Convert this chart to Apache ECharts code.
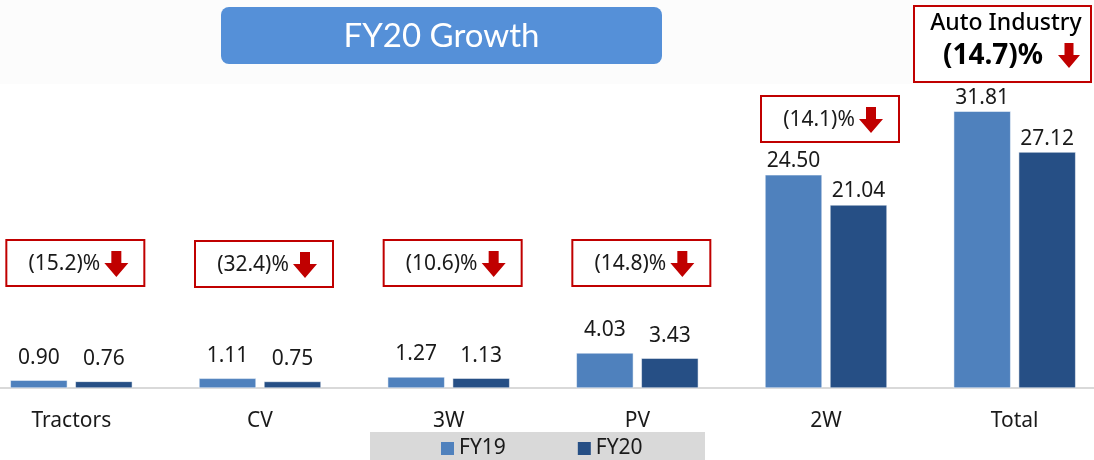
<!DOCTYPE html>
<html>
<head>
<meta charset="utf-8">
<script src="https://cdn.jsdelivr.net/npm/echarts@6/dist/echarts.min.js"></script>
<style>
html,body{margin:0;padding:0;background:#fff;overflow:hidden;width:1094px;height:460px;position:relative;}
#chart{width:1132px;height:460px;position:absolute;left:-23px;top:0;}
</style>
</head>
<body>
<div id="chart"></div>
<script>
// ---- data ----
var categories = ['Tractors', 'CV', '3W', 'PV', '2W', 'Total'];
var fy19 = [0.90, 1.11, 1.27, 4.03, 24.50, 31.81];
var fy20 = [0.76, 0.75, 1.13, 3.43, 21.04, 27.12];
var seriesNames = ['FY19', 'FY20'];
var growthLabels = ['(15.2)%', '(32.4)%', '(10.6)%', '(14.8)%', '(14.1)%'];
var titleText = 'FY20 Growth';
var industryTitle = 'Auto Industry';
var industryGrowth = '(14.7)%';

var C19 = '#4F81BD', C20 = '#264F85', RED = '#C00000';
var FONT = '"Noto Sans", "Open Sans", sans-serif';
var OX = 23; // container offset (chart canvas starts 23px left of the page)

function withLabels(arr) {
  return arr.map(function (v) {
    return { value: v, label: { distance: v > 20 ? 3 : 12 } };
  });
}
function labelCfg() {
  return { show: true, position: 'top', formatter: function(p){return p.value.toFixed(2);},
    fontFamily: FONT, fontSize: 21, color: '#1a1a1a' };
}

var chart = echarts.init(document.getElementById('chart'));
chart.setOption({
  animation: false,
  backgroundColor: '#ffffff',
  grid: { left: 0, right: 0, top: 83.5, bottom: 72, containLabel: false },
  legend: {
    data: seriesNames,
    left: 441 + OX, top: 438, padding: 0,
    itemWidth: 13, itemHeight: 13, itemGap: 72,
    icon: 'rect',
    itemStyle: { borderWidth: 0 },
    textStyle: { fontFamily: FONT, fontSize: 21, color: '#1a1a1a' }
  },
  xAxis: {
    type: 'category', data: categories,
    axisLine: { lineStyle: { color: '#D9D9D9', width: 2 } },
    axisTick: { show: false },
    axisLabel: { fontFamily: FONT, fontSize: 21, color: '#1a1a1a', margin: 23 }
  },
  yAxis: { type: 'value', min: 0, max: 35, show: false, splitLine: { show: false } },
  series: [
    { name: seriesNames[0], type: 'bar', data: withLabels(fy19), barWidth: 57, barGap: '14%',
      itemStyle: { color: C19, borderColor: '#ffffff', borderWidth: 0.5 }, label: labelCfg() },
    { name: seriesNames[1], type: 'bar', data: withLabels(fy20), barWidth: 57,
      itemStyle: { color: C20, borderColor: '#ffffff', borderWidth: 0.5 }, label: labelCfg() }
  ]
});

function arrow(cx, top, w, h, shaftW, headH) {
  var hw = w / 2, sw = shaftW / 2;
  return {
    type: 'polygon', z: 12,
    shape: { points: [
      [cx - sw, top], [cx + sw, top], [cx + sw, top + h - headH],
      [cx + hw, top + h - headH], [cx, top + h], [cx - hw, top + h - headH],
      [cx - sw, top + h - headH]
    ] },
    style: { fill: RED }
  };
}

var g = [];
// light top band
g.push({ type: 'rect', z: 0, silent: true, shape: { x: 0, y: 0, width: 1132, height: 84 }, style: { fill: '#FCFCFC' } });
// title box
g.push({ type: 'rect', z: 10, shape: { x: 221 + OX, y: 7, width: 441, height: 57, r: 8 }, style: { fill: '#5590D8' } });
g.push({ type: 'text', z: 11, style: { text: titleText, x: 441.5 + OX, y: 36, align: 'center', verticalAlign: 'middle',
  fontFamily: '"Lato", "Open Sans", sans-serif', fontSize: 33, fill: '#ffffff' } });
// legend band
g.push({ type: 'rect', z: 0, silent: true, shape: { x: 370 + OX, y: 432, width: 335, height: 28 }, style: { fill: '#D9D9D9' } });
// industry box
g.push({ type: 'rect', z: 10, shape: { x: 914 + OX, y: 6, width: 177, height: 76 }, style: { fill: '#ffffff', stroke: RED, lineWidth: 2 } });
g.push({ type: 'text', z: 11, style: { text: industryTitle, x: 1006 + OX, y: 23, align: 'center', verticalAlign: 'middle',
  fontFamily: FONT, fontSize: 23, fontWeight: 500, fill: '#000' } });
g.push({ type: 'text', z: 11, style: { text: industryGrowth, x: 993 + OX, y: 56, align: 'center', verticalAlign: 'middle',
  fontFamily: FONT, fontSize: 28, fontWeight: 'bold', fill: '#000' } });
g.push(arrow(1069 + OX, 43, 22, 25, 9, 13));

// growth boxes per category
var boxTops = [240, 241, 240, 240, 96];
for (var i = 0; i < growthLabels.length; i++) {
  var cx = chart.convertToPixel({ xAxisIndex: 0 }, categories[i]);
  var bx = cx - 69 + 4, by = boxTops[i];
  g.push({ type: 'rect', z: 10, shape: { x: bx, y: by, width: 138, height: 46 }, style: { fill: '#ffffff', stroke: RED, lineWidth: 2 } });
  g.push({ type: 'text', z: 11, style: { text: growthLabels[i], x: cx - 7, y: by + 24, align: 'center', verticalAlign: 'middle',
    fontFamily: FONT, fontSize: 21, fill: '#1a1a1a' } });
  g.push(arrow(cx + 45, by + 11, 24, 26, 10, 14));
}
chart.setOption({ graphic: g });
</script>
</body>
</html>
